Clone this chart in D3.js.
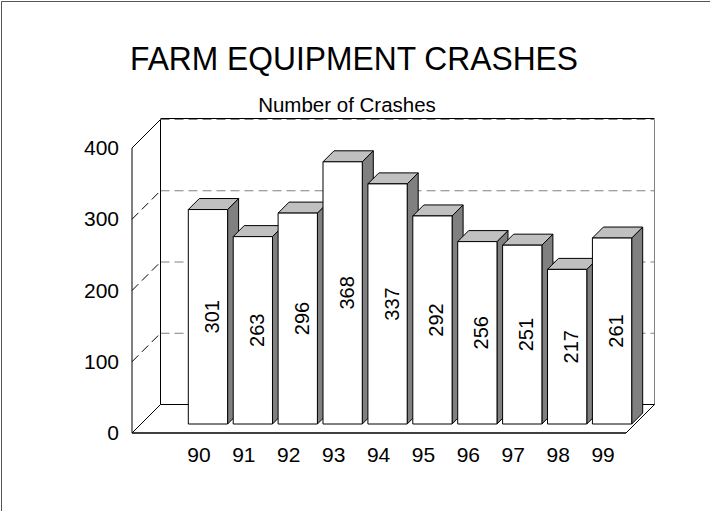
<!DOCTYPE html>
<html>
<head>
<meta charset="utf-8">
<script src="https://cdn.jsdelivr.net/npm/d3@7"></script>
<style>
  body { margin: 0; background: #fff; }
  svg { display: block; }
  text { font-family: "Liberation Sans", Arial, Helvetica, sans-serif; fill: #000; }
</style>
</head>
<body>
<svg id="chart" width="710" height="511"></svg>
<script>
// Data
const categories = ["90", "91", "92", "93", "94", "95", "96", "97", "98", "99"];
const crashes = [301, 263, 296, 368, 337, 292, 256, 251, 217, 261];
const yTicks = [0, 100, 200, 300, 400];
const gridValues = [100, 200, 300, 400];
const titleText = "FARM EQUIPMENT CRASHES";
const subtitleText = "Number of Crashes";

const svg = d3.select("#chart");

// Front plane geometry of the 3D box; depth is drawn at 45 degrees.
const left = 132, right = 626;
const depth = 28.5;          // floor depth in px
const barZ0 = 9, barZ1 = 20; // bars sit in the middle of the floor

const y = d3.scaleLinear().domain([0, 400]).range([433, 148]);
const x = d3.scaleBand().domain(categories)
  .range([176.5, 625.5]).paddingInner(0.125).paddingOuter(0.0625);

// project a front-plane point pushed back by z
const P = (px, py, z) => [px + z, py - z];
const line = (a, b) => `M${a[0]},${a[1]}L${b[0]},${b[1]}`;
const poly = pts => "M" + pts.map(p => p.join(",")).join("L") + "Z";

// Figure frame
svg.append("path").attr("d", "M1.5,511V1.5H710")
  .attr("fill", "none").attr("stroke", "#555").attr("stroke-width", 1);

// Titles
svg.append("text").attr("x", 354).attr("y", 70)
  .attr("text-anchor", "middle").attr("font-size", 34)
  .attr("textLength", 448).attr("lengthAdjust", "spacingAndGlyphs").text(titleText);
svg.append("text").attr("x", 347).attr("y", 112)
  .attr("text-anchor", "middle").attr("font-size", 20.5).text(subtitleText);

const g = svg.append("g");

// Back wall grid lines (dashed)
gridValues.forEach(v => {
  g.append("path").attr("d", line(P(left, y(v), depth), P(right, y(v), depth)))
    .attr("stroke", "#808080").attr("stroke-dasharray", "9,5").attr("fill", "none");
});
// Back wall top edge
g.append("path").attr("d", line(P(left, y(400), depth), P(right, y(400), depth)))
  .attr("stroke", "#000").attr("stroke-width", 1).attr("transform", "translate(0,-1)");
// Back wall vertical edges
g.append("path").attr("d", line(P(left, y(0), depth), P(left, y(400), depth)))
  .attr("stroke", "#000");
g.append("path").attr("d", line(P(right, y(0), depth), P(right, y(400), depth)))
  .attr("stroke", "#808080");

// Left wall grid diagonals (dashed)
[100, 200, 300].forEach(v => {
  g.append("path").attr("d", line(P(left, y(v), 0), P(left, y(v), depth)))
    .attr("stroke", "#000").attr("stroke-dasharray", "9,5");
});
// Left wall edges
g.append("path").attr("d", line(P(left, y(400), 0), P(left, y(400), depth))).attr("stroke", "#000");
g.append("path").attr("d", line(P(left, y(0), 0), P(left, y(400), 0))).attr("stroke", "#000");
g.append("path").attr("d", line(P(left, y(0), 0), P(left, y(0), depth))).attr("stroke", "#000");

// Floor edges
g.append("path").attr("d", line(P(left, y(0), depth), P(right, y(0), depth))).attr("stroke", "#000");
g.append("path").attr("d", line(P(right, y(0), 0), P(right, y(0), depth))).attr("stroke", "#000");
g.append("path").attr("d", line(P(left, y(0), 0), P(right, y(0), 0)))
  .attr("stroke", "#000").attr("stroke-width", 1.5);

// Bars
const bw = x.bandwidth();
const bars = g.selectAll("g.bar").data(categories.map((c, i) => ({ c, v: crashes[i] })))
  .join("g").attr("class", "bar");

bars.append("path").attr("d", d => {
  const xr = x(d.c) + bw;
  return poly([P(xr, y(d.v), barZ0), P(xr, y(d.v), barZ1), P(xr, y(0), barZ1), P(xr, y(0), barZ0)]);
}).attr("fill", "#808080").attr("stroke", "#000").attr("stroke-linejoin", "round");

bars.append("path").attr("d", d => {
  const xl = x(d.c), xr = xl + bw;
  return poly([P(xl, y(d.v), barZ0), P(xl, y(d.v), barZ1), P(xr, y(d.v), barZ1), P(xr, y(d.v), barZ0)]);
}).attr("fill", "#c0c0c0").attr("stroke", "#000").attr("stroke-linejoin", "round");

bars.append("path").attr("d", d => {
  const xl = x(d.c), xr = xl + bw;
  return poly([P(xl, y(d.v), barZ0), P(xr, y(d.v), barZ0), P(xr, y(0), barZ0), P(xl, y(0), barZ0)]);
}).attr("fill", "#fff").attr("stroke", "#000").attr("stroke-linejoin", "round");

// Value labels, rotated inside the front face
bars.append("text")
  .attr("transform", d => {
    const cx = x(d.c) + barZ0 + bw / 2;
    const cy = (y(d.v) + y(0)) / 2 - barZ0;
    return `translate(${cx},${cy}) rotate(-90)`;
  })
  .attr("y", 11).attr("text-anchor", "middle").attr("font-size", 20)
  .text(d => d.v);

// Axes
const yAxis = g.append("g").attr("transform", `translate(${left},0)`)
  .call(d3.axisLeft(y).tickValues(yTicks).tickSize(0).tickPadding(13));
yAxis.select(".domain").remove();
yAxis.selectAll("text").attr("font-size", 21).attr("font-family", null);

const xAxis = g.append("g").attr("transform", `translate(0,${y(0)})`)
  .call(d3.axisBottom(x).tickSize(0).tickPadding(14));
xAxis.select(".domain").remove();
xAxis.selectAll("text").attr("font-size", 21).attr("font-family", null);
</script>
</body>
</html>
